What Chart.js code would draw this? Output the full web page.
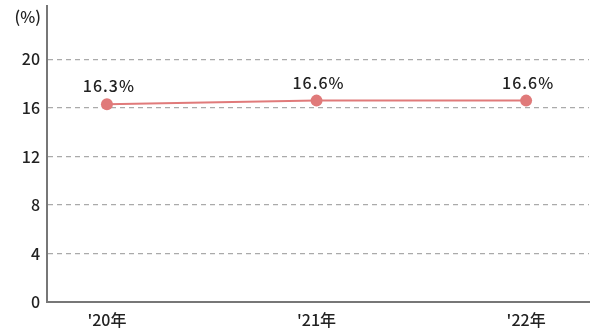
<!DOCTYPE html>
<html>
<head>
<meta charset="utf-8">
<script src="https://cdn.jsdelivr.net/npm/chart.js@4"></script>
<style>
  html, body { margin: 0; padding: 0; background: #fff; }
  #wrap { width: 595px; height: 334px; }
</style>
</head>
<body>
<div id="wrap"><canvas id="c" width="595" height="334"></canvas></div>
<script>
const categories = ["'20年", "'21年", "'22年"];
const values = [16.3, 16.6, 16.6];
const yTicks = [0, 4, 8, 12, 16, 20];
const unitLabel = "(%)";

const FONT = '"Noto Sans CJK JP", "Noto Sans", sans-serif';
const LINE_COLOR = '#e07a7a';

const labelPlugin = {
  id: 'valueLabels',
  afterDatasetsDraw(chart) {
    const ctx = chart.ctx;
    const meta = chart.getDatasetMeta(0);
    ctx.save();
    ctx.font = '500 16px ' + FONT;
    ctx.letterSpacing = '1px';
    ctx.fillStyle = '#222';
    ctx.textAlign = 'center';
    ctx.textBaseline = 'alphabetic';
    meta.data.forEach((pt, i) => {
      ctx.fillText(values[i].toFixed(1) + '%', pt.x + 2, pt.y - 12);
    });
    // unit caption beside the top of the value axis
    ctx.font = '500 16px ' + FONT;
    ctx.letterSpacing = '0px';
    ctx.textAlign = 'right';
    ctx.textBaseline = 'middle';
    ctx.fillText(unitLabel, chart.chartArea.left - 6, 17);
    ctx.restore();
  }
};

new Chart(document.getElementById('c'), {
  type: 'line',
  data: {
    datasets: [{
      data: values.map((v, i) => ({ x: i, y: v })),
      borderColor: LINE_COLOR,
      backgroundColor: LINE_COLOR,
      borderWidth: 2,
      pointRadius: 6,
      pointHoverRadius: 6,
      pointBorderWidth: 0,
      tension: 0
    }]
  },
  options: {
    responsive: false,
    animation: false,
    events: [],
    layout: { padding: { top: 5, right: 5, left: 0, bottom: 0 } },
    plugins: { legend: { display: false }, tooltip: { enabled: false } },
    scales: {
      x: {
        type: 'linear',
        min: -0.286,
        max: 2.3,
        afterBuildTicks(scale) { scale.ticks = categories.map((_, i) => ({ value: i })); },
        afterFit(scale) { scale.height = 32; },
        ticks: {
          autoSkip: false,
          maxRotation: 0,
          padding: 8,
          color: '#222',
          font: { family: FONT, size: 16, weight: '500' },
          callback: (v) => categories[v]
        },
        grid: { display: false, drawTicks: false },
        border: { display: true, color: '#777', width: 2 }
      },
      y: {
        type: 'linear',
        min: 0,
        max: 24.4,
        afterBuildTicks(scale) { scale.ticks = yTicks.map(v => ({ value: v })); },
        afterFit(scale) {
          scale.width = 47;
          scale.paddingTop = 0;
        },
        ticks: {
          padding: 7,
          color: '#222',
          font: { family: FONT, size: 16, weight: '500' },
          callback: (v) => String(v)
        },
        grid: {
          color: (c) => c.tick && c.tick.value === 0 ? 'rgba(0,0,0,0)' : '#aaa',
          lineWidth: 1.2,
          drawTicks: false
        },
        // dashed horizontal gridlines
        border: { display: true, color: '#777', width: 2, dash: [5, 4] }
      }
    }
  },
  plugins: [labelPlugin]
});
</script>
</body>
</html>
